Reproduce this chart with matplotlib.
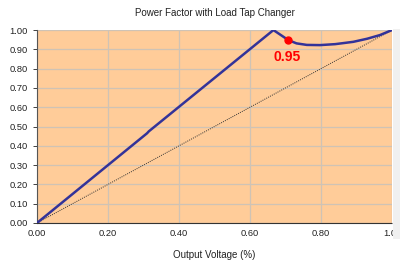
import matplotlib.pyplot as plt
import matplotlib.patches as mpatches

plt.rcParams['font.family'] = ['Liberation Sans', 'DejaVu Sans']

# power factor curve
volt = [0.0, 0.31, 0.315, 0.666, 0.708, 0.731, 0.76, 0.797, 0.84, 0.891, 0.93, 0.966, 1.0]
pf = [0.0, 0.465, 0.475, 1.0, 0.948, 0.931, 0.923, 0.922, 0.927, 0.939, 0.955, 0.974, 1.0]
ref_x = [0.0, 1.0]
ref_y = [0.0, 1.0]
mark_x = 0.708
mark_y = 0.95
mark_label = "0.95"
ticks = [0.0, 0.1, 0.2, 0.3, 0.4, 0.5, 0.6, 0.7, 0.8, 0.9, 1.0]
xticks = [0.0, 0.2, 0.4, 0.6, 0.8, 1.0]

fig = plt.figure(figsize=(4, 2.66), dpi=100)
ax = fig.add_axes([0.0925, 0.1617, 0.8875, 0.7253])
ax.set_facecolor('#FFCC99')

ax.plot(ref_x, ref_y, color='#333333', linestyle=(0, (1, 1.2)), linewidth=0.7, zorder=2)
ax.plot(volt, pf, color='#333399', linewidth=1.8, zorder=3)
ax.plot([mark_x], [mark_y], 'o', color='#FF0000', markersize=5, zorder=4)
ax.text(mark_x - 0.003, 0.86, mark_label, color='#FF0000', fontsize=10,
        fontweight='bold', ha='center', va='center')

ax.set_xlim(0, 1)
ax.set_ylim(0, 1)
ax.set_xticks(xticks)
ax.set_yticks(ticks)
ax.set_xticklabels([f"{t:.2f}" for t in xticks])
ax.set_yticklabels([f"{t:.2f}" for t in ticks])
ax.tick_params(labelsize=6.7, colors='#222222', length=3, width=0.6)
ax.tick_params(axis='x', length=0, pad=4)
ax.grid(True, color='#CFC3B5', linewidth=0.9)
ax.set_axisbelow(True)

for s in ['top', 'right']:
    ax.spines[s].set_visible(False)
ax.spines['left'].set_color('#555555')
ax.spines['left'].set_linewidth(0.8)
ax.spines['bottom'].set_linestyle((0, (1, 1)))
ax.spines['bottom'].set_color('#333333')
ax.spines['bottom'].set_linewidth(0.8)

ax.set_title("Power Factor with Load Tap Changer", fontsize=7, pad=10, color='#222222')
ax.set_xlabel("Output Voltage (%)", fontsize=7, labelpad=9, color='#222222')

# scroll bar strip on the right edge
fig.patches.append(mpatches.Rectangle((0.982, 0.1), 0.018, 0.79, transform=fig.transFigure,
                                      facecolor='#F0F0F0', edgecolor='none'))

fig.savefig('out.png', dpi=100)
